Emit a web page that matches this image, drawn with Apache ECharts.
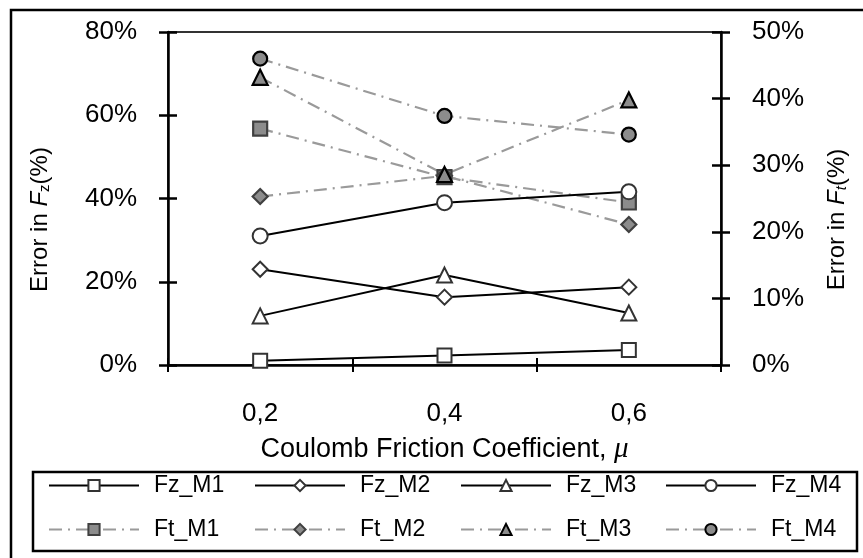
<!DOCTYPE html>
<html>
<head>
<meta charset="utf-8">
<script src="https://cdn.jsdelivr.net/npm/echarts@6/dist/echarts.min.js"></script>
<style>
  html, body { margin: 0; padding: 0; background: #fff; }
  #chart { width: 863px; height: 558px; }
</style>
</head>
<body>
<div id="chart"></div>
<script>
// Coulomb friction coefficient values (category axis)
const categories = ['0,2', '0,4', '0,6'];

// Error in normal force Fz (%), left axis
const fzM1 = [1.0, 2.3, 3.6];
const fzM2 = [23.0, 16.3, 18.7];
const fzM3 = [11.8, 21.6, 12.5];
const fzM4 = [31.0, 39.0, 41.6];

// Error in tangential force Ft (%), right axis
const ftM1 = [35.5, 28.2, 24.4];
const ftM2 = [25.3, 28.4, 21.1];
const ftM3 = [43.2, 28.6, 39.8];
const ftM4 = [46.0, 37.4, 34.6];

const leftTicks = { min: 0, max: 80, interval: 20 };
const rightTicks = { min: 0, max: 50, interval: 10 };

// Legend layout: two rows, four columns
const legendRows = [
  ['Fz_M1', 'Fz_M2', 'Fz_M3', 'Fz_M4'],
  ['Ft_M1', 'Ft_M2', 'Ft_M3', 'Ft_M4']
];
const legendColumnsX = [48, 254, 460, 665];
const legendRowsY = [474, 518];

const FONT = 'Liberation Sans, Arial, sans-serif';
const DASH_DOT = [13, 6, 2, 6];

function fzSeries(name, data, symbol, size) {
  return {
    name, type: 'line', data, yAxisIndex: 0, symbol, symbolSize: size,
    z: 3,
    lineStyle: { color: '#000', width: 2 },
    itemStyle: { color: '#fff', borderColor: '#333', borderWidth: 2 },
    emphasis: { disabled: true }
  };
}
function ftSeries(name, data, symbol, size, border) {
  return {
    name, type: 'line', data, yAxisIndex: 1, symbol, symbolSize: size,
    z: 2,
    lineStyle: { color: '#9a9a9a', width: 2.2, type: DASH_DOT },
    itemStyle: { color: '#8c8c8c', borderColor: border, borderWidth: 2.2 },
    emphasis: { disabled: true }
  };
}

const chart = echarts.init(document.getElementById('chart'), null, { renderer: 'canvas' });

const tickLabel = { color: '#000', fontSize: 26, fontFamily: FONT };
const nameRich = {
  t: { fontSize: 24, fontFamily: FONT, color: '#000' },
  f: { fontSize: 24, fontFamily: FONT, fontStyle: 'italic', color: '#000' },
  s: { fontSize: 15, fontFamily: FONT, color: '#000', verticalAlign: 'bottom', lineHeight: 12 },
  si: { fontSize: 15, fontFamily: FONT, fontStyle: 'italic', color: '#000', verticalAlign: 'bottom', lineHeight: 12 },
  x: { fontSize: 27, fontFamily: FONT, color: '#000' },
  m: { fontSize: 29, fontFamily: 'Liberation Serif, serif', fontStyle: 'italic', color: '#000' }
};

function valueAxis(pos, ticks, withLabels, name, gap) {
  return {
    type: 'value', position: pos, min: ticks.min, max: ticks.max, interval: ticks.interval,
    splitLine: { show: false },
    axisLine: { show: withLabels, lineStyle: { color: '#000', width: 2.5 } },
    axisTick: { show: true, inside: !withLabels, length: 9, lineStyle: { color: '#000', width: 2.5 } },
    axisLabel: withLabels ? Object.assign({ formatter: '{value}%', margin: 31 }, tickLabel) : { show: false },
    name: withLabels ? name : '',
    nameLocation: 'middle', nameRotate: 90, nameGap: gap,
    nameTextStyle: { rich: nameRich, padding: [0, 42, 0, 0] }
  };
}

function catAxis(withLabels) {
  return {
    type: 'category', data: categories, position: 'bottom',
    axisLine: { show: withLabels, lineStyle: { color: '#000', width: 2.5 } },
    axisTick: { show: true, inside: !withLabels, length: 7, lineStyle: { color: '#000', width: 2 } },
    axisLabel: withLabels ? Object.assign({ margin: 36 }, tickLabel) : { show: false },
    name: withLabels ? '{x|Coulomb Friction Coefficient, }{m|μ}' : '',
    nameLocation: 'middle', nameGap: 70,
    nameTextStyle: { rich: nameRich }
  };
}

const legendRich = { a: { fontSize: 23, fontFamily: FONT, color: '#000', padding: [0, 0, 0, 10] } };
const legends = [];
legendRows.forEach((row, r) => {
  row.forEach((name, c) => {
    legends.push({
      data: [name], left: legendColumnsX[c], top: legendRowsY[r], padding: 0,
      itemWidth: 90, itemHeight: 14,
      selectedMode: false,
      formatter: '{a|{name}}',
      textStyle: { rich: legendRich }
    });
  });
});

chart.setOption({
  animation: false,
  backgroundColor: '#fff',
  grid: { left: 168, right: 142, top: 32, bottom: 193, show: true, borderColor: '#333', borderWidth: 2, backgroundColor: 'transparent' },
  xAxis: [catAxis(true), catAxis(false)],
  yAxis: [
    valueAxis('left', leftTicks, true, '{t|Error in }{f|F}{s|z}{t|(%)}', 116),
    valueAxis('right', rightTicks, true, '{t|Error in }{f|F}{si|t}{t|(%)}', 104),
    valueAxis('left', leftTicks, false, '', 0),
    valueAxis('right', rightTicks, false, '', 0)
  ],
  legend: legends,
  graphic: [
    { type: 'rect', shape: { x: 11, y: 10, width: 870, height: 570 }, style: { fill: null, stroke: '#000', lineWidth: 2.5 }, silent: true },
    { type: 'rect', shape: { x: 33, y: 472, width: 824, height: 79 }, style: { fill: null, stroke: '#000', lineWidth: 2.5 }, silent: true }
  ],
  series: [
    ftSeries('Ft_M1', ftM1, 'rect', 14, '#404040'),
    ftSeries('Ft_M2', ftM2, 'diamond', 15, '#404040'),
    ftSeries('Ft_M3', ftM3, 'triangle', 15, '#000'),
    ftSeries('Ft_M4', ftM4, 'circle', 14, '#000'),
    fzSeries('Fz_M1', fzM1, 'rect', 14),
    fzSeries('Fz_M2', fzM2, 'diamond', 15),
    fzSeries('Fz_M3', fzM3, 'triangle', 15),
    fzSeries('Fz_M4', fzM4, 'circle', 15)
  ]
});
</script>
</body>
</html>
